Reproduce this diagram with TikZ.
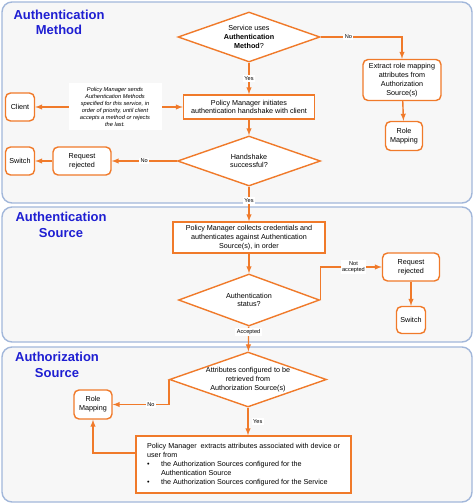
\documentclass[tikz,border=0pt]{standalone}
\usepackage{fontspec}
\setmainfont{Liberation Sans}
\usetikzlibrary{shapes.geometric}
\definecolor{flow}{HTML}{F07A2A}
\definecolor{panel}{HTML}{F7F7F7}
\definecolor{rim}{HTML}{A2B7DA}
\definecolor{head}{HTML}{1E1ED2}

\begin{document}
\begin{tikzpicture}[x=1pt, y=-1pt, >=latex,
    pane/.style={draw=rim, fill=panel, rounded corners=10pt, line width=1.4pt},
    title/.style={text=head, font=\bfseries\fontsize{13}{15.5}\selectfont, align=center},
    sq/.style={draw=flow, fill=white, line width=1.4pt, inner sep=1pt, align=center,
        font=\fontsize{7.2}{8.8}\selectfont},
    rnd/.style={sq, rounded corners=5pt},
    dec/.style={sq, diamond, aspect=2.8, inner sep=0pt},
    lab/.style={fill=white, inner sep=1.5pt, align=center, font=\fontsize{5.6}{6.5}\selectfont},
    memo/.style={fill=white, inner sep=1pt, align=center, font=\itshape\fontsize{5.7}{7}\selectfont},
    link/.style={draw=flow, line width=1.4pt, ->}]

    \useasboundingbox (0, 0) rectangle (474, 504);
    \draw [pane] (2, 2) rectangle (472, 203);
    \draw [pane] (2, 207) rectangle (472, 342);
    \draw [pane] (2, 347) rectangle (472, 502);

    \node [title] (ta) at (59, 22.5) {Authentication\\Method};
    \node [title] (tb) at (61, 225) {Authentication\\Source};
    \node [title] (tc) at (57, 365) {Authorization\\Source};

    \node [dec, minimum width=142pt, minimum height=50pt] (uses) at (249, 37) {Service uses\\\textbf{Authentication}\\\textbf{Method}?};
    \node [rnd, minimum width=78pt, minimum height=41pt] (extract) at (402, 80) {Extract role mapping\\attributes from\\Authorization\\Source(s)};
    \node [rnd, minimum width=37pt, minimum height=29pt] (rolea) at (404, 136) {Role\\Mapping};
    \node [sq, minimum width=131pt, minimum height=24pt] (init) at (249, 107) {Policy Manager initiates\\authentication handshake with client};
    \node [rnd, minimum width=29pt, minimum height=28pt] (client) at (20, 107) {Client};
    \node [dec, minimum width=143pt, minimum height=50pt] (shake) at (249, 161) {Handshake\\successful?};
    \node [rnd, minimum width=58pt, minimum height=28pt] (rejecta) at (82, 161) {Request\\rejected};
    \node [rnd, minimum width=29pt, minimum height=28pt] (switcha) at (20, 161) {Switch};

    \node [sq, minimum width=152pt, minimum height=31pt] (collect) at (249, 237.5) {Policy Manager collects credentials and\\authenticates against Authentication\\Source(s), in order};
    \node [dec, minimum width=141pt, minimum height=52pt] (status) at (249, 300) {Authentication\\status?};
    \node [rnd, minimum width=57pt, minimum height=28pt] (rejectb) at (411, 267) {Request\\rejected};
    \node [rnd, minimum width=29pt, minimum height=27pt] (switchb) at (411, 320) {Switch};

    \node [dec, minimum width=157pt, minimum height=55pt, inner xsep=-6pt] (attr) at (248, 379.5) {Attributes configured to be\\retrieved from\\Authorization Source(s)};
    \node [rnd, minimum width=38pt, minimum height=29pt] (roleb) at (93, 404.5) {Role\\Mapping};
    \node [sq, minimum width=215pt, minimum height=57pt, align=left, font=\fontsize{7.2}{9}\selectfont] (pull) at (243.5, 464.5) {Policy Manager\ \ extracts attributes associated with device or\\user from\\\makebox[14pt][l]{\textbullet}the Authorization Sources configured for the\\\hspace*{14pt}Authentication Source\\\makebox[14pt][l]{\textbullet}the Authorization Sources configured for the Service};

    \draw [link] (uses) to node [lab] {Yes} (init);
    \draw [link] (uses.east) -| node [lab, pos=0.17] {No} (extract);
    \draw [link] (extract) to (rolea);
    \draw [link, <->] (client) to (init);
    \node [memo, minimum width=93pt, minimum height=47pt] (note) at (115, 106.5) {Policy Manager sends\\Authentication Methods\\specified for this service, in\\order of priority, until client\\accepts a method or rejects\\the last.};
    \draw [link] (init) to (shake);
    \draw [link] (shake.west) to node [lab] {No} (rejecta.east);
    \draw [link] (rejecta) to (switcha);
    \draw [link] (shake) to node [lab, pos=0.39] {Yes} (collect);

    \draw [link] (collect) to (status);
    \draw [link] (status.east) |- node [lab, pos=0.77] {Not\\accepted} (rejectb.west);
    \draw [link] (rejectb) to (switchb);
    \draw [link] (status) to node [lab, pos=0.23] {Accepted} (attr);

    \draw [link] (attr.west) |- node [lab, pos=0.66] {No} (roleb.east);
    \draw [link] (attr) to node [lab, right=3pt] {Yes} (attr |- pull.north);
    \draw [link] ([yshift=11.5pt]pull.west) -| (roleb);

\end{tikzpicture}
\end{document}
